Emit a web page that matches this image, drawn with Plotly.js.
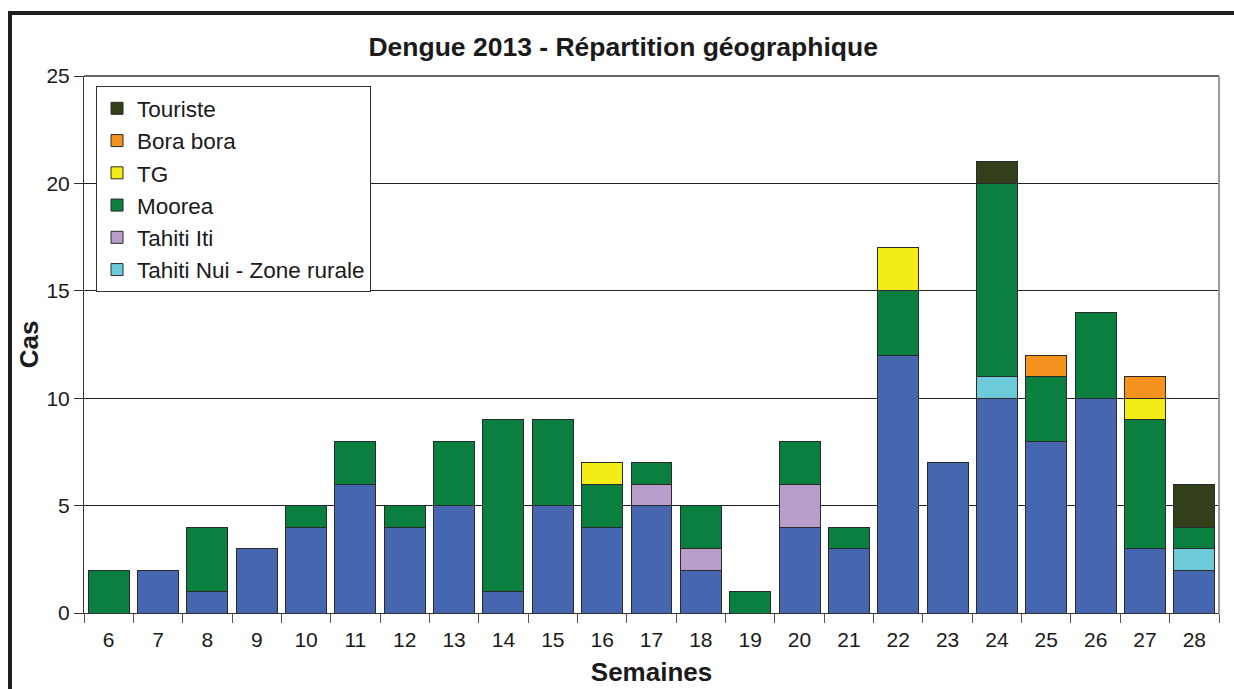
<!DOCTYPE html>
<html><head><meta charset="utf-8">
<script src="https://cdn.plot.ly/plotly-3.0.1.min.js"></script>
<style>body{margin:0;background:#fff}#frame{position:absolute;left:8px;top:11px;width:1240px;height:700px;border-top:4px solid #1e1e1e;border-left:4px solid #1e1e1e;pointer-events:none;z-index:10}</style>
</head><body>
<div id="chart" style="width:1234px;height:689px"></div>
<div id="frame"></div>
<script>
const weeks = ['6','7','8','9','10','11','12','13','14','15','16','17','18','19','20','21','22','23','24','25','26','27','28'];
const urbaine  = [0,2,1,3,4,6,4,5,1,5,4,5,2,0,4,3,12,7,10,8,10,3,2];
const rurale   = [0,0,0,0,0,0,0,0,0,0,0,0,0,0,0,0,0,0,1,0,0,0,1];
const tahitiIti= [0,0,0,0,0,0,0,0,0,0,0,1,1,0,2,0,0,0,0,0,0,0,0];
const moorea   = [2,0,3,0,1,2,1,3,8,4,2,1,2,1,2,1,3,0,9,3,4,6,1];
const tg       = [0,0,0,0,0,0,0,0,0,0,1,0,0,0,0,0,2,0,0,0,0,1,0];
const bora     = [0,0,0,0,0,0,0,0,0,0,0,0,0,0,0,0,0,0,0,1,0,1,0];
const touriste = [0,0,0,0,0,0,0,0,0,0,0,0,0,0,0,0,0,0,1,0,0,0,2];

const series = [
  {name:'Tahiti Nui - Zone urbaine', y:urbaine, color:'#4766B0', legend:false},
  {name:'Tahiti Nui - Zone rurale', y:rurale, color:'#6CCAD9', legend:true},
  {name:'Tahiti Iti', y:tahitiIti, color:'#B89FCB', legend:true},
  {name:'Moorea', y:moorea, color:'#0B7F3F', legend:true},
  {name:'TG', y:tg, color:'#F3EC17', legend:true},
  {name:'Bora bora', y:bora, color:'#F6921E', legend:true},
  {name:'Touriste', y:touriste, color:'#333F1B', legend:true}
];
const traces = series.map((s,i)=>({
  type:'bar', x:weeks, y:s.y, name:s.name, showlegend:s.legend,
  legendrank: 100 - i,
  marker:{color:s.color, line:{color:'#2a2a2a', width:1}},
  hoverinfo:'x+y+name'
}));
const layout = {
  width:1234, height:689,
  paper_bgcolor:'#fff', plot_bgcolor:'#fff',
  margin:{l:84, r:15, t:76, b:76},
  barmode:'stack', bargap:0.17,
  font:{family:'Liberation Sans, Arial, sans-serif', size:21, color:'#1a1a1a'},
  title:{text:'<b>Dengue 2013 - Répartition géographique</b>', font:{size:26.5, color:'#1a1a1a'},
         xref:'container', x:0.505, xanchor:'center', yref:'container', y:1-47/689, yanchor:'middle'},
  xaxis:{type:'category', showline:true, linecolor:'#333', linewidth:1,
         ticks:'outside', tickson:'boundaries', ticklen:9, tickcolor:'#555',
         ticklabelstandoff:8,
         showgrid:false, zeroline:false,
         title:{text:'<b>Semaines</b>', font:{size:26}, standoff:12}},
  yaxis:{range:[0,25], dtick:5, showline:true, linecolor:'#333', linewidth:1,
         ticks:'outside', ticklen:9, tickcolor:'#333',
         showgrid:true, gridcolor:'#222', gridwidth:1, zeroline:false,
         title:{text:'<b>Cas</b>', font:{size:26}, standoff:0}},
  legend:{x:0.0106, y:0.981, xanchor:'left', yanchor:'top',
          bgcolor:'#fff', bordercolor:'#333', borderwidth:1,
          traceorder:'normal',
          font:{size:22.5}, itemwidth:30},
  shapes:[
    {type:'line', xref:'paper', yref:'paper', x0:0, x1:1, y0:1, y1:1, line:{color:'#666', width:2}},
    {type:'line', xref:'paper', yref:'paper', x0:1, x1:1, y0:0, y1:1, line:{color:'#999', width:2}}
  ]
};
Plotly.newPlot('chart', traces, layout, {displayModeBar:false, staticPlot:true});
</script>
</body></html>
